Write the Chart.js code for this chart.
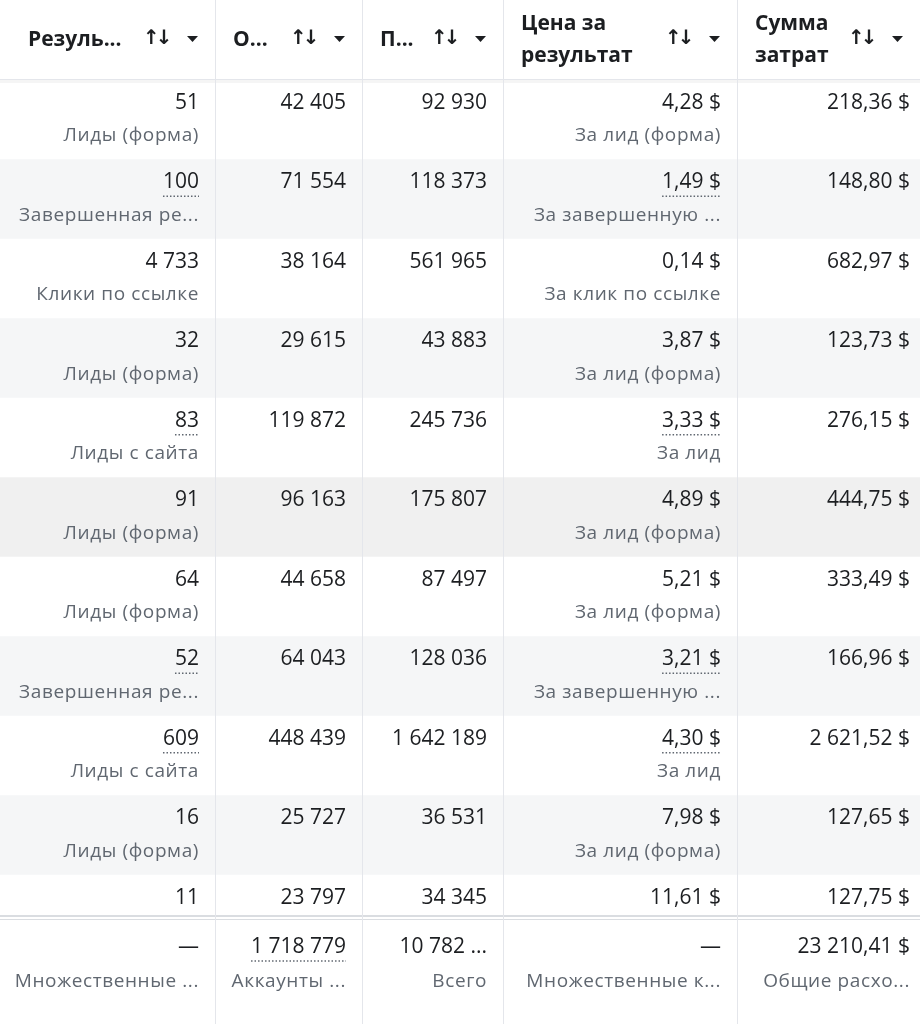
<!DOCTYPE html>
<html><head><meta charset="utf-8">
<script src="https://cdn.jsdelivr.net/npm/chart.js@4"></script>
<style>html,body{margin:0;padding:0;background:#fff}#w{width:920px;height:1024px}</style>
</head><body><div id="w"><canvas id="c"></canvas></div>
<script>
const headers = [["Резуль..."],["О..."],["П..."],["Цена за","результат"],["Сумма","затрат"]];
const results = ["51","100","4 733","32","83","91","64","52","609","16","11"];
const resultTypes = ["Лиды (форма)","Завершенная ре...","Клики по ссылке","Лиды (форма)","Лиды с сайта","Лиды (форма)","Лиды (форма)","Завершенная ре...","Лиды с сайта","Лиды (форма)",""];
const reach = ["42 405","71 554","38 164","29 615","119 872","96 163","44 658","64 043","448 439","25 727","23 797"];
const impressions = ["92 930","118 373","561 965","43 883","245 736","175 807","87 497","128 036","1 642 189","36 531","34 345"];
const costPer = ["4,28 $","1,49 $","0,14 $","3,87 $","3,33 $","4,89 $","5,21 $","3,21 $","4,30 $","7,98 $","11,61 $"];
const costPerTypes = ["За лид (форма)","За завершенную ...","За клик по ссылке","За лид (форма)","За лид","За лид (форма)","За лид (форма)","За завершенную ...","За лид","За лид (форма)",""];
const spend = ["218,36 $","148,80 $","682,97 $","123,73 $","276,15 $","444,75 $","333,49 $","166,96 $","2 621,52 $","127,65 $","127,75 $"];
const dottedResult = [false,true,false,false,true,false,false,true,true,false,false];
const dottedCost = [false,true,false,false,true,false,false,true,true,false,false];
const totals = ["—","1 718 779","10 782 ...","—","23 210,41 $"];
const totalTypes = ["Множественные ...","Аккаунты ...","Всего","Множественные к...","Общие расхо..."];
const rowLabels = results.map((_, i) => "r" + (i + 1));

// layout constants
const colEdges = [0,215,362,503,737,920];
const rightPad = [16,16,16,16,10];
const headerH = 80, rowH = 79.5, footerTop = 915;
const stripe = rowLabels.map((_, i) => i === 5 ? "#f0f0f0" : (i % 2 ? "#f5f6f7" : "#ffffff"));
const numFont = "500 21px 'Open Sans', sans-serif";
const subFont = "19px 'Open Sans', sans-serif";

const textPlugin = {
  id: "tbl",
  afterDatasetsDraw(chart) {
    const ctx = chart.ctx, y = chart.scales.y;
    const cols = [results, reach, impressions, costPer, spend];
    const subs = [resultTypes, null, null, costPerTypes, null];
    const dots = [dottedResult, null, null, dottedCost, null];
    ctx.save();
    ctx.textAlign = "right"; ctx.textBaseline = "middle";
    const sub = (t, x, yy) => { ctx.font = subFont; ctx.fillStyle = "#606770"; ctx.letterSpacing = "0.6px"; ctx.fillText(t, x, yy); ctx.letterSpacing = "0px"; };
    for (let i = 0; i < rowLabels.length; i++) {
      const cy = y.getPixelForValue(i);
      for (let c = 0; c < 5; c++) {
        const xr = colEdges[c + 1] - rightPad[c];
        ctx.font = numFont; ctx.fillStyle = "#1c1e21";
        ctx.fillText(cols[c][i], xr, cy - 17);
        if (dots[c] && dots[c][i]) {
          const w = ctx.measureText(cols[c][i]).width;
          ctx.setLineDash([1.5, 2]); ctx.strokeStyle = "#606770"; ctx.lineWidth = 1.5;
          ctx.beginPath(); ctx.moveTo(xr - w, cy - 3); ctx.lineTo(xr, cy - 3); ctx.stroke(); ctx.setLineDash([]);
        }
        if (subs[c] && subs[c][i]) sub(subs[c][i], xr, cy + 16);
      }
    }
    // footer
    ctx.fillStyle = "#fff"; ctx.fillRect(0, footerTop, 920, 1024 - footerTop);
    ctx.fillStyle = "#dadde1"; ctx.fillRect(0, footerTop, 920, 2); ctx.fillRect(0, footerTop + 4, 920, 1);
    for (let c = 0; c < 5; c++) {
      const xr = colEdges[c + 1] - rightPad[c];
      ctx.font = numFont; ctx.fillStyle = "#1c1e21";
      ctx.fillText(totals[c], xr, 947);
      if (c === 1) {
        const w = ctx.measureText(totals[c]).width;
        ctx.setLineDash([1.5, 2]); ctx.strokeStyle = "#606770"; ctx.lineWidth = 1.5;
        ctx.beginPath(); ctx.moveTo(xr - w, 961); ctx.lineTo(xr, 961); ctx.stroke(); ctx.setLineDash([]);
      }
      sub(totalTypes[c], xr, 982);
    }
    // header
    ctx.fillStyle = "#fff"; ctx.fillRect(0, 0, 920, headerH);
    ctx.fillStyle = "#e4e6eb"; ctx.fillRect(0, headerH - 1, 920, 1);
    ctx.fillStyle = "rgba(0,0,0,0.04)"; ctx.fillRect(0, headerH, 920, 3);
    ctx.textAlign = "left";
    for (let c = 0; c < 5; c++) {
      const xl = colEdges[c] + (c === 0 ? 28 : 18);
      ctx.font = "bold 21px 'Open Sans', sans-serif"; ctx.fillStyle = "#1c1e21";
      const h = headers[c];
      if (h.length === 1) ctx.fillText(h[0], xl, 40);
      else { ctx.fillText(h[0], xl, 24); ctx.fillText(h[1], xl, 56); }
      const xe = colEdges[c + 1];
      ctx.font = "bold 20px 'DejaVu Sans', sans-serif";
      ctx.letterSpacing = "-4px";
      ctx.fillText("↑↓", xe - 72, 39);
      ctx.letterSpacing = "0px";
      ctx.beginPath(); ctx.moveTo(xe - 28, 36); ctx.lineTo(xe - 17, 36); ctx.lineTo(xe - 22.5, 42); ctx.closePath(); ctx.fill();
    }
    // column lines
    ctx.fillStyle = "#e4e6eb";
    for (let c = 1; c < 5; c++) ctx.fillRect(colEdges[c], 0, 1, 1024);
    ctx.restore();
  }
};

new Chart(document.getElementById("c"), {
  type: "bar",
  data: { labels: rowLabels, datasets: [{ data: rowLabels.map(() => [0, 1]), backgroundColor: stripe, barPercentage: 1, categoryPercentage: 1 }] },
  options: {
    indexAxis: "y", responsive: true, maintainAspectRatio: false, animation: false,
    layout: { padding: { top: headerH, bottom: 1024 - headerH - rowH * rowLabels.length, left: 0, right: 0 } },
    plugins: { legend: { display: false }, tooltip: { enabled: false } },
    scales: {
      x: { display: false, min: 0, max: 1 },
      y: { display: false }
    }
  },
  plugins: [textPlugin]
});
</script></body></html>
